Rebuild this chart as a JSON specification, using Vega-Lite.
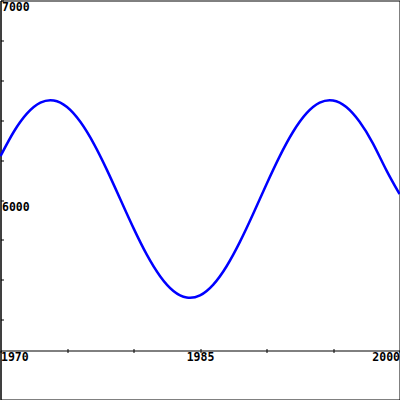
{
  "$schema": "https://vega.github.io/schema/vega-lite/v6.json",
  "width": 399,
  "height": 399,
  "autosize": "none",
  "padding": {"left": 0.5, "top": 0.5, "right": 0.5, "bottom": 0.5},
  "background": "white",
  "config": {
    "view": {"stroke": "black", "strokeWidth": 1},
    "axis": {
      "grid": false,
      "domainColor": "black",
      "tickColor": "black",
      "labelColor": "black",
      "labelFont": "DejaVu Sans Mono",
      "labelFontWeight": "bold",
      "labelFontSize": 11.5,
      "title": null,
      "labelOverlap": false
    }
  },
  "data": {
    "values": [
      {"year": 1970, "value": 6220},
      {"year": 1971, "value": 6342},
      {"year": 1972, "value": 6434},
      {"year": 1973, "value": 6488},
      {"year": 1974, "value": 6499},
      {"year": 1975, "value": 6466},
      {"year": 1976, "value": 6392},
      {"year": 1977, "value": 6284},
      {"year": 1978, "value": 6151},
      {"year": 1979, "value": 6005},
      {"year": 1980, "value": 5859},
      {"year": 1981, "value": 5726},
      {"year": 1982, "value": 5618},
      {"year": 1983, "value": 5544},
      {"year": 1984, "value": 5511},
      {"year": 1985, "value": 5522},
      {"year": 1986, "value": 5576},
      {"year": 1987, "value": 5668},
      {"year": 1988, "value": 5790},
      {"year": 1989, "value": 5931},
      {"year": 1990, "value": 6079},
      {"year": 1991, "value": 6220},
      {"year": 1992, "value": 6342},
      {"year": 1993, "value": 6434},
      {"year": 1994, "value": 6488},
      {"year": 1995, "value": 6499},
      {"year": 1996, "value": 6466},
      {"year": 1997, "value": 6392},
      {"year": 1998, "value": 6284},
      {"year": 1999, "value": 6151},
      {"year": 2000, "value": 6030}
    ]
  },
  "layer": [
    {
      "mark": {"type": "line", "color": "#0000ff", "strokeWidth": 2.5, "interpolate": "natural"},
      "encoding": {
        "x": {
          "field": "year", "type": "quantitative",
          "scale": {"domain": [1970, 2000], "nice": false, "zero": false},
          "axis": {
            "orient": "bottom",
            "offset": -49,
            "values": [1970, 1975, 1980, 1985, 1990, 1995, 2000],
            "labelExpr": "datum.value == 1970 || datum.value == 1985 || datum.value == 2000 ? datum.value : ''",
            "labelFlush": true,
            "tickSize": 2,
            "labelPadding": -1,
            "labelBaseline": "top"
          }
        },
        "y": {
          "field": "value", "type": "quantitative",
          "scale": {"domain": [5000, 7000], "nice": false, "zero": false},
          "axis": {
            "orient": "left",
            "values": [5400, 5600, 5800, 6000, 6200, 6400, 6600, 6800, 7000],
            "labelExpr": "datum.value == 6000 || datum.value == 7000 ? datum.value : ''",
            "tickSize": -3,
            "labelPadding": 2,
            "labelAlign": "left",
            "labelBaseline": "top",
            "labelOffset": 1,
            "domain": true
          }
        }
      }
    },
    {
      "mark": {"type": "line", "opacity": 0},
      "encoding": {
        "x": {
          "field": "year", "type": "quantitative",
          "axis": {
            "orient": "bottom",
            "offset": -49,
            "values": [1975, 1980, 1985, 1990, 1995],
            "labels": false,
            "domain": false,
            "tickSize": -2
          }
        },
        "y": {"field": "value", "type": "quantitative"}
      }
    }
  ],
  "resolve": {"axis": {"x": "independent"}}
}
